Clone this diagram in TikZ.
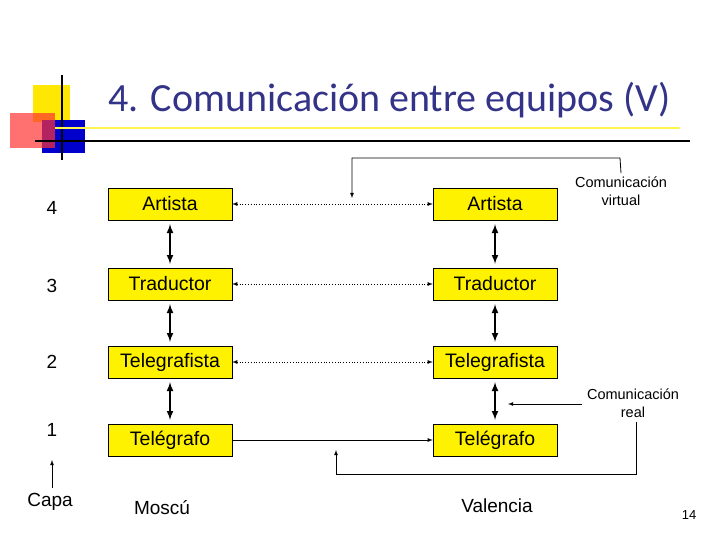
\documentclass[tikz,border=0pt]{standalone}
\usepackage{fontspec}
\setmainfont{Liberation Sans}
\newfontfamily\titlefont{Carlito}
\definecolor{titleblue}{HTML}{333388}
\begin{document}
\begin{tikzpicture}[x=1pt,y=-1pt,
 box/.style={draw,fill=yellow,minimum width=124pt,minimum height=32pt,font=\fontsize{19.5}{22}\selectfont},
 lab/.style={font=\fontsize{19}{22}\selectfont},
 small/.style={font=\fontsize{14.5}{18}\selectfont,align=center},
 dbl/.style={<->,>=latex,line width=2pt},
 dot/.style={<->,>=latex,dotted,thick},
 sol/.style={->,>=latex,thick}]
\useasboundingbox (0,0) rectangle (720,540);
% logo
\fill[yellow!90!orange] (33,85) rectangle (70,122);
\fill[blue!80!black] (42,120) rectangle (85,153);
\fill[red!80,opacity=0.7] (10,113) rectangle (55,148);
\draw[line width=1.5pt] (62,75) -- (62,160);
\draw[yellow!70,line width=2pt] (55,128) -- (680,128);
\draw[line width=2pt] (35,141) -- (690,141);
\node[anchor=west,text=titleblue,font=\titlefont\fontsize{40}{44}\selectfont] (t) at (105,100) {4. Comunicación entre equipos (V)};
% boxes
\foreach \n/\t/\y in {a/Artista/204,b/Traductor/284,c/Telegrafista/362,d/Telégrafo/440}{
 \node[box] (L\n) at (170,\y) {\t};
 \node[box] (R\n) at (495,\y) {\t};
}
\foreach \n in {a,b,c}{\draw[dot] (L\n) -- (R\n);}
\draw[sol] (Ld) -- (Rd);
\foreach \a/\b in {a/b,b/c,c/d}{
 \draw[dbl] ([yshift=-4pt]L\a.south) -- ([yshift=4pt]L\b.north);
 \draw[dbl] ([yshift=-4pt]R\a.south) -- ([yshift=4pt]R\b.north);
}
% labels
\node[lab] (n4) at (52,208) {4};
\node[lab] (n3) at (52,286) {3};
\node[lab] (n2) at (52,362) {2};
\node[lab] (n1) at (52,430) {1};
\node[lab] (capa) at (50,502) {Capa};
\coordinate (c0) at (52,488);
\coordinate (c1) at (52,460);
\draw[sol] (c0) -- (c1);
\node[lab] (mo) at (162,508) {Moscú};
\node[lab] (va) at (497,506) {Valencia};
\node[font=\fontsize{13}{15}\selectfont] (pg) at (689,515) {14};
\node[small] (cv) at (621,191) {Comunicación\\virtual};
\node[small] (cr) at (633,403) {Comunicación\\real};
\coordinate (v1) at (352,198);
\coordinate (v0) at (620,158);
\draw[sol] (cv.north) -- (v0) -- (352,158) -- (v1);
\coordinate (r0) at (582,404);
\coordinate (r1) at (508,404);
\draw[sol] (r0) -- (r1);
\coordinate (b1) at (336,450);
\draw[sol] (636,422) -- (636,474) -- (336,474) -- (b1);
\end{tikzpicture}
\end{document}
